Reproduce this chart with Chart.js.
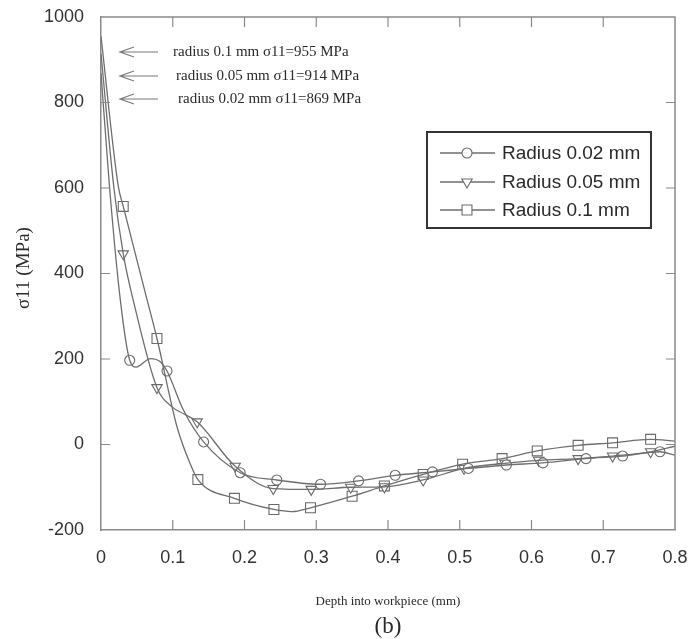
<!DOCTYPE html>
<html><head><meta charset="utf-8">
<script src="https://cdn.jsdelivr.net/npm/chart.js@4.4.1/dist/chart.umd.min.js"></script>
<style>html,body{margin:0;padding:0;background:#fff}#wrap{width:690px;height:639px}</style>
</head><body><div id="wrap"><canvas id="c" width="690" height="639"></canvas></div>
<script>
// ---- data ----
const X_TICKS = [0, 0.1, 0.2, 0.3, 0.4, 0.5, 0.6, 0.7, 0.8];
const Y_TICKS = [-200, 0, 200, 400, 600, 800, 1000];
const SERIES_LABELS = ['Radius 0.02 mm', 'Radius 0.05 mm', 'Radius 0.1 mm'];
const ANNOTATIONS = ['radius 0.1 mm σ11=955 MPa', 'radius 0.05 mm σ11=914 MPa', 'radius 0.02 mm σ11=869 MPa'];
const X_TITLE = 'Depth into workpiece (mm)';
const Y_TITLE = 'σ11 (MPa)';
const SUB_CAPTION = '(b)';

// Radius 0.02 mm (circles) — marked points
const r002Depth  = [0.040, 0.092, 0.143, 0.194, 0.245, 0.306, 0.359, 0.410, 0.462, 0.512, 0.565, 0.616, 0.676, 0.727, 0.779];
const r002Stress = [197, 172, 6, -66, -83, -93, -85, -72, -64, -56, -48, -43, -33, -27, -17];
// Radius 0.02 mm — unmarked curve points
const r002CurveDepth  = [0, 0.012, 0.027, 0.049, 0.069, 0.083, 0.115, 0.8];
const r002CurveStress = [869, 600, 337, 181, 201, 193, 80, -25];

// Radius 0.05 mm (triangles)
const r005Depth  = [0.031, 0.078, 0.134, 0.187, 0.240, 0.293, 0.348, 0.395, 0.449, 0.506, 0.563, 0.610, 0.665, 0.713, 0.766];
const r005Stress = [446, 133, 53, -51, -103, -105, -100, -99, -83, -56, -44, -37, -33, -27, -17];
const r005CurveDepth  = [0, 0.018, 0.045, 0.099, 0.115, 0.8];
const r005CurveStress = [914, 600, 337, 88, 72, -4];

// Radius 0.1 mm (squares)
const r01Depth  = [0.031, 0.078, 0.135, 0.186, 0.241, 0.292, 0.350, 0.395, 0.449, 0.504, 0.559, 0.608, 0.665, 0.713, 0.766];
const r01Stress = [557, 248, -82, -126, -152, -148, -121, -97, -70, -46, -33, -15, -2, 4, 12];
const r01CurveDepth  = [0, 0.024, 0.062, 0.106, 0.124, 0.266, 0.8];
const r01CurveStress = [955, 605, 353, 41, -44, -157, 8];

// ---- build ----
const LINE = '#6e6e6e';
const MARK = '#6a6a6a';
function pts(xs, ys) { return xs.map((x, i) => ({x, y: ys[i]})); }
function curve(xs, ys, cx, cy) { return pts(xs, ys).concat(pts(cx, cy)).sort((a, b) => a.x - b.x); }

const series = [
  {label: SERIES_LABELS[0], marks: pts(r002Depth, r002Stress), curve: curve(r002Depth, r002Stress, r002CurveDepth, r002CurveStress), style: 'circle', radius: 5, rot: 0},
  {label: SERIES_LABELS[1], marks: pts(r005Depth, r005Stress), curve: curve(r005Depth, r005Stress, r005CurveDepth, r005CurveStress), style: 'triangle', radius: 6, rot: 180},
  {label: SERIES_LABELS[2], marks: pts(r01Depth, r01Stress), curve: curve(r01Depth, r01Stress, r01CurveDepth, r01CurveStress), style: 'rect', radius: 7, rot: 0},
];

const datasets = [];
series.forEach(s => {
  datasets.push({label: s.label, data: s.curve, borderColor: LINE, borderWidth: 1.3, pointRadius: 0, cubicInterpolationMode: 'monotone', fill: false});
});
series.forEach(s => {
  datasets.push({label: s.label + ' markers', data: s.marks, showLine: false, pointStyle: s.style, pointRadius: s.radius, pointRotation: s.rot,
    pointBackgroundColor: '#fff', pointBorderColor: MARK, pointBorderWidth: 1.1});
});

const AX = '#8a8a8a';
const decor = {
  id: 'decor',
  afterDraw(chart) {
    const {ctx, chartArea: a, scales: {x, y}} = chart;
    ctx.save();
    // top and right frame
    ctx.strokeStyle = AX; ctx.lineWidth = 1.5;
    ctx.beginPath();
    ctx.moveTo(a.left, a.top); ctx.lineTo(a.right, a.top); ctx.lineTo(a.right, a.bottom);
    ctx.stroke();
    // inward tick marks
    ctx.lineWidth = 1.2;
    ctx.beginPath();
    X_TICKS.slice(1, -1).forEach(v => {
      const px = x.getPixelForValue(v);
      ctx.moveTo(px, a.bottom); ctx.lineTo(px, a.bottom - 10);
      ctx.moveTo(px, a.top); ctx.lineTo(px, a.top + 10);
    });
    Y_TICKS.slice(1, -1).forEach(v => {
      const py = y.getPixelForValue(v);
      ctx.moveTo(a.left, py); ctx.lineTo(a.left + 9, py);
      ctx.moveTo(a.right, py); ctx.lineTo(a.right - 9, py);
    });
    ctx.stroke();

    // annotations with arrows
    const annY = [52, 76, 99];
    const annX = [173, 176, 178];
    ctx.strokeStyle = '#7a7a7a'; ctx.lineWidth = 1.2;
    annY.forEach(yy => {
      ctx.beginPath();
      ctx.moveTo(158, yy); ctx.lineTo(120, yy);
      ctx.moveTo(134, yy - 5); ctx.lineTo(120, yy); ctx.lineTo(134, yy + 5);
      ctx.stroke();
    });
    ctx.fillStyle = '#2a2a2a';
    ctx.font = '15px "Liberation Serif", "Times New Roman", serif';
    ctx.textAlign = 'left'; ctx.textBaseline = 'middle';
    ANNOTATIONS.forEach((t, i) => ctx.fillText(t, annX[i], annY[i]));

    // legend
    const L = {left: 427, top: 132, right: 651, bottom: 228};
    ctx.strokeStyle = '#333'; ctx.lineWidth = 2;
    ctx.strokeRect(L.left, L.top, L.right - L.left, L.bottom - L.top);
    const rows = [153, 182, 210];
    series.forEach((s, i) => {
      const ry = rows[i];
      ctx.strokeStyle = LINE; ctx.lineWidth = 1.3;
      ctx.beginPath(); ctx.moveTo(440, ry); ctx.lineTo(495, ry); ctx.stroke();
      ctx.fillStyle = '#fff'; ctx.strokeStyle = MARK; ctx.lineWidth = 1.1;
      Chart.helpers.drawPoint(ctx, {pointStyle: s.style, rotation: s.rot, radius: s.radius, borderWidth: 1.1}, 467, ry);
      ctx.fillStyle = '#2a2a2a';
      ctx.font = '19px "Liberation Sans", Arial, sans-serif';
      ctx.textAlign = 'left'; ctx.textBaseline = 'middle';
      ctx.fillText(s.label, 502, ry + 1);
    });

    // axis titles
    ctx.fillStyle = '#2a2a2a';
    ctx.textAlign = 'center'; ctx.textBaseline = 'middle';
    ctx.font = '13px "Liberation Serif", "Times New Roman", serif';
    ctx.fillText(X_TITLE, (a.left + a.right) / 2, 602);
    ctx.font = '23px "Liberation Serif", "Times New Roman", serif';
    ctx.fillText(SUB_CAPTION, (a.left + a.right) / 2, 627);
    ctx.save();
    ctx.translate(24, 268);
    ctx.rotate(-Math.PI / 2);
    ctx.font = '19px "Liberation Serif", "Times New Roman", serif';
    ctx.fillText(Y_TITLE, 0, 0);
    ctx.restore();
    ctx.restore();
  }
};

new Chart(document.getElementById('c'), {
  type: 'line',
  data: {datasets},
  options: {
    responsive: false,
    animation: false,
    devicePixelRatio: 1,
    layout: {padding: {left: 0, right: 15, top: 17, bottom: 0}},
    plugins: {legend: {display: false}, tooltip: {enabled: false}},
    scales: {
      x: {
        type: 'linear', min: 0, max: 0.8,
        afterBuildTicks: s => { s.ticks = X_TICKS.map(v => ({value: v})); },
        afterFit: s => { s.height = 109; s.paddingLeft = 0; s.paddingRight = 0; },
        ticks: {callback: v => String(Math.round(v * 10) / 10), font: {family: '"Liberation Sans", Arial, sans-serif', size: 18}, color: '#333', padding: 17, maxRotation: 0, autoSkip: false},
        grid: {display: false, drawTicks: false},
        border: {display: true, color: AX, width: 1.5}
      },
      y: {
        type: 'linear', min: -200, max: 1000,
        afterBuildTicks: s => { s.ticks = Y_TICKS.map(v => ({value: v})); },
        afterFit: s => { s.width = 101; s.paddingTop = 0; s.paddingBottom = 0; },
        ticks: {callback: v => String(v), font: {family: '"Liberation Sans", Arial, sans-serif', size: 18}, color: '#333', padding: 17, autoSkip: false},
        grid: {display: false, drawTicks: false},
        border: {display: true, color: AX, width: 1.5}
      }
    }
  },
  plugins: [decor]
});
</script>
</body></html>
